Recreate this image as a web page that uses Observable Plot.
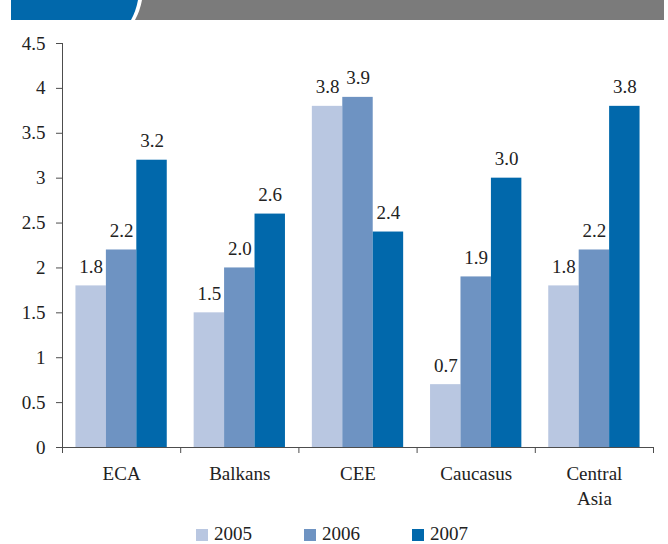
<!DOCTYPE html>
<html>
<head>
<meta charset="utf-8">
<script src="https://cdn.jsdelivr.net/npm/d3@7"></script>
<script src="https://cdn.jsdelivr.net/npm/@observablehq/plot@0.6"></script>
<style>
  html, body { margin: 0; padding: 0; background: #fff; overflow: hidden; }
  body { width: 668px; height: 544px; position: relative; font-family: "Liberation Serif", "Times New Roman", serif; }
  #banner { display: block; }
  #legend {
    position: absolute; left: 0; top: 524px; width: 668px; height: 20px;
    display: flex; justify-content: center; align-items: center; gap: 52px;
    padding-right: 4px; box-sizing: border-box;
    font-size: 19px; color: #222; line-height: 20px;
  }
  #legend .item { display: flex; align-items: center; gap: 6px; }
  #legend .sw { width: 12px; height: 12px; display: inline-block; margin-top: 2px; }
</style>
</head>
<body>
<svg id="banner" width="668" height="20">
  <path d="M11,0 H138 Q136,11 131,20 H11 Z" fill="#0168ab"/>
  <path d="M142,0 H664 V20 H135 Q140,11 142,0 Z" fill="#7b7b7b"/>
</svg>
<div id="chart"></div>
<div id="legend"></div>
<script>
// Regions on the x axis and the three survey years
const categories = ["ECA", "Balkans", "CEE", "Caucasus", "Central\nAsia"];
const years = ["2005", "2006", "2007"];

// One series per year, in region order
const v2005 = [1.8, 1.5, 3.8, 0.7, 1.8];
const v2006 = [2.2, 2.0, 3.9, 1.9, 2.2];
const v2007 = [3.2, 2.6, 2.4, 3.0, 3.8];

const yearColors = ["#b9c7e1", "#6e93c2", "#0168ab"];
const yTicks = [0, 0.5, 1, 1.5, 2, 2.5, 3, 3.5, 4, 4.5];
const yDomain = [0, 4.5];

const series = [v2005, v2006, v2007];
const rows = categories.flatMap((category, ci) =>
  series.map((values, yi) => ({category, ci, year: years[yi], yi, value: values[ci]}))
);

// Each region occupies one unit on x; its three bars share the middle of it
const barW = 0.2575;
const pad = (1 - years.length * barW) / 2;
const left = d => d.ci + pad + d.yi * barW;

const axisColor = "#4d4d4d";
const serif = "'Liberation Serif', 'Times New Roman', serif";

const chart = Plot.plot({
  width: 668,
  height: 502,
  marginTop: 23,
  marginBottom: 75,
  marginLeft: 62,
  marginRight: 15,
  style: {fontFamily: serif, fontSize: "19px", color: "#222", background: "#fff"},
  x: {type: "linear", domain: [0, categories.length], axis: null},
  y: {domain: yDomain, axis: null},
  color: {domain: years, range: yearColors},
  marks: [
    Plot.rectY(rows, {x1: left, x2: d => left(d) + barW, y1: 0, y2: "value", fill: "year"}),
    Plot.text(rows, {
      x: d => left(d) + barW / 2, y: "value",
      text: d => d.value.toFixed(1),
      lineAnchor: "bottom", dy: -13, fill: "#222", fontFamily: serif
    }),
    Plot.ruleX([0], {stroke: axisColor}),
    Plot.ruleY([0], {stroke: axisColor}),
    Plot.axisY({
      ticks: yTicks, tickSize: 6, tickPadding: 11, label: null,
      tickFormat: d => String(d), stroke: axisColor, fill: "#222", fontFamily: serif
    }),
    Plot.axisX({
      ticks: d3.range(categories.length + 1), tickSize: 6, label: null,
      tickFormat: () => "", stroke: axisColor
    }),
    Plot.text(categories, {
      x: (d, i) => i + 0.5, y: () => 0,
      text: d => d,
      lineAnchor: "top", dy: 15, lineHeight: 1.32, fill: "#222", fontFamily: serif
    })
  ]
});
document.getElementById("chart").appendChild(chart);

// Year key below the plot
const legend = d3.select("#legend");
years.forEach((y, i) => {
  const item = legend.append("div").attr("class", "item");
  item.append("span").attr("class", "sw").style("background", yearColors[i]);
  item.append("span").text(y);
});
</script>
</body>
</html>
